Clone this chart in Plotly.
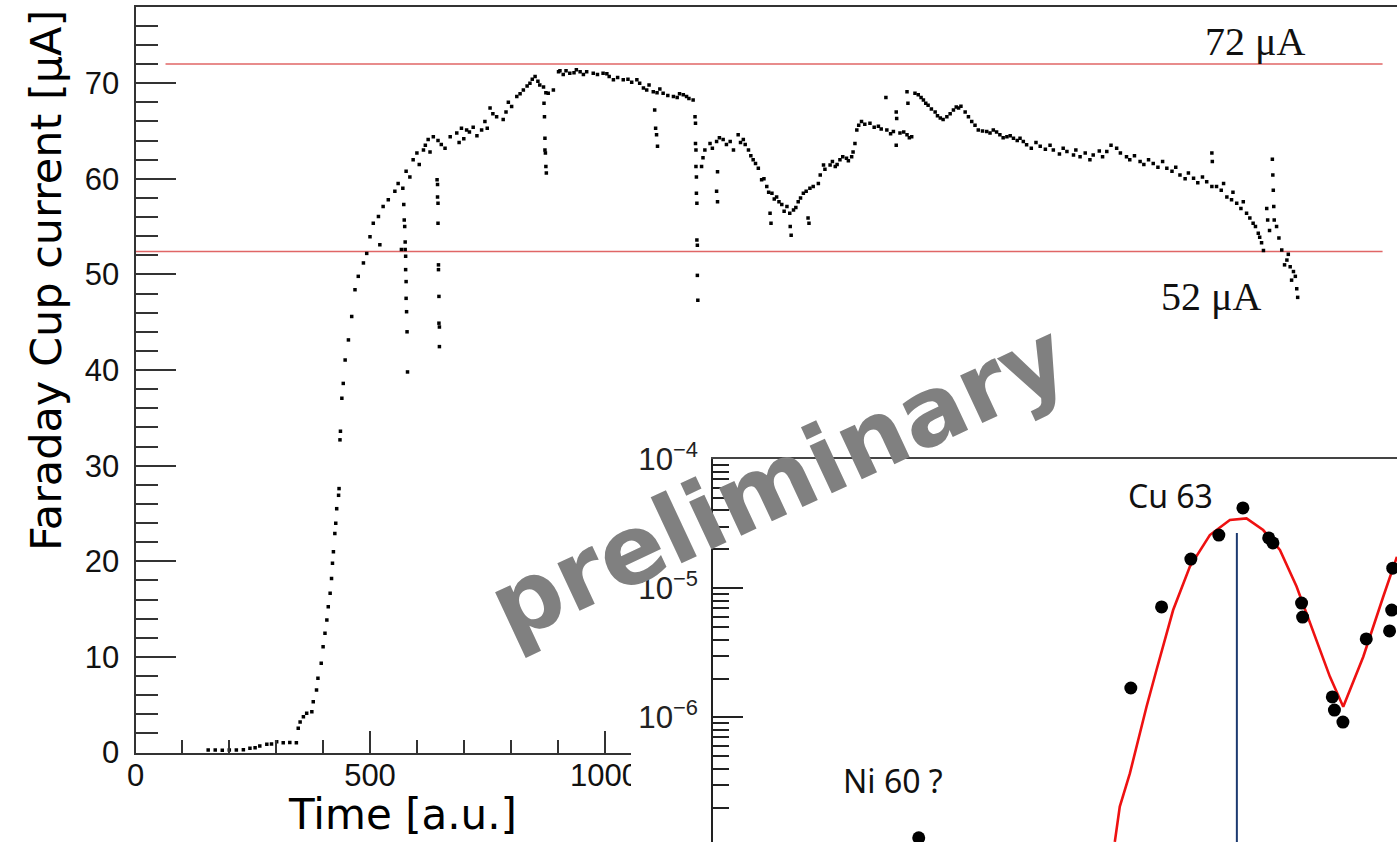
import plotly.graph_objects as go

W, H = 1397, 842


def fx(p):
    return p / W


def fy(p):
    return 1 - p / H


# ---------------- main panel: Faraday cup current vs time ----------------
baseline_t = [155, 170, 185, 200, 215, 230, 244, 255, 265, 280, 290, 301, 315, 329, 343]
baseline_i = [0.26, 0.25, 0.24, 0.25, 0.27, 0.30, 0.44, 0.50, 0.68, 0.85, 0.90, 1.13, 1.03, 1.05, 1.03]

rise_t = [347, 351, 358, 365, 376, 379, 386, 389, 396, 400,
          404, 408, 411, 415, 418, 420, 422, 425, 427, 429,
          433, 434, 436, 437, 440, 443, 447, 454, 461, 468,
          475, 486, 493, 500, 507, 518, 528, 539, 553, 560,
          570, 577, 585, 592, 600, 605, 614, 618, 624, 628,
          635, 645, 652, 660, 671, 685, 690, 695, 700, 706,
          712, 720, 728, 738, 745, 750, 756, 762, 770, 784,
          790, 795, 802, 813, 820, 827, 835, 841, 846, 852,
          858, 862, 870, 875, 880, 891, 902, 905, 912, 918,
          926, 935, 940, 948, 955, 962, 976, 985, 997, 1005,
          1010, 1019, 1028, 1040, 1050, 1058, 1069, 1075, 1083, 1090,
          1095, 1104, 1112, 1118, 1125, 1135, 1147, 1155, 1160, 1168,
          1175, 1180, 1189]
rise_i = [2.53, 3.2, 3.75, 4.1, 4.27, 5.3, 6.54, 7.76, 9.33, 11.07,
          12.47, 13.86, 15.25, 16.65, 18.2, 19.8, 21.0, 22.9, 23.97, 25.5,
          26.9, 27.6, 32.7, 33.6, 37.05, 38.6, 41.05, 43.15, 45.6, 48.4,
          49.8, 51.2, 52.2, 53.95, 55.35, 56.05, 57.1, 57.8, 58.7, 59.5,
          59.0, 60.8, 60.2, 62.0, 62.7, 61.5, 63.0, 63.5, 64.1, 62.8,
          64.4, 64.0, 63.6, 63.2, 64.4, 64.8, 63.8, 65.3, 64.2, 65.1,
          64.9, 65.4, 64.5, 65.1, 66.0, 65.3, 67.4, 66.8, 66.5, 66.2,
          67.0, 68.0, 67.55, 68.6, 68.9, 69.3, 69.7, 70.0, 70.4, 70.7,
          70.2, 69.8, 69.6, 69.0, 68.95, 69.3, 71.2, 71.3, 70.9, 71.3,
          71.05, 71.1, 71.4, 71.2, 70.9, 71.2, 71.05, 70.9, 71.05, 71.0,
          70.7, 70.35, 70.6, 70.35, 70.4, 70.1, 70.35, 70.0, 69.5, 69.3,
          69.8, 69.1, 69.0, 69.4, 68.95, 68.7, 68.6, 68.5, 68.9, 68.8,
          68.6, 68.4, 68.25]

mid_t = [1207, 1210, 1214, 1225, 1230, 1239, 1245, 1253, 1260, 1268,
         1275, 1285, 1290, 1296, 1300, 1307, 1312, 1317, 1322, 1328,
         1335, 1340, 1346, 1350, 1357, 1362, 1367, 1372, 1378, 1383,
         1389, 1395, 1403, 1408, 1413, 1418, 1424, 1430, 1438, 1445,
         1456, 1460, 1467, 1470, 1481, 1486, 1492, 1496, 1502, 1508,
         1516, 1520, 1527, 1530, 1534, 1538, 1542, 1548, 1555, 1566,
         1575, 1584, 1590, 1602, 1610, 1616, 1630, 1638, 1645, 1650,
         1655, 1662, 1669, 1675, 1680, 1685, 1690, 1697, 1705, 1710,
         1716, 1722, 1730, 1737, 1744, 1750, 1755, 1760, 1769, 1776,
         1783, 1790, 1797, 1806, 1815, 1822, 1829, 1836, 1843, 1850,
         1858, 1865, 1872, 1880, 1886]
mid_i = [61.3, 62.2, 63.0, 63.7, 63.2, 63.9, 64.3, 64.1, 63.6, 63.9,
         63.0, 64.6, 63.8, 64.1, 63.6, 63.0, 62.4, 62.0, 61.6, 61.1,
         59.9, 60.0, 59.2, 58.6, 58.5, 57.9, 58.1, 57.6, 57.3, 56.6,
         57.1, 56.4, 56.75, 57.0, 57.6, 58.0, 58.5, 58.7, 59.0, 59.2,
         59.5, 60.4, 61.45, 61.0, 61.45, 61.8, 61.3, 61.5, 62.0, 62.3,
         62.15, 61.9, 62.3, 62.8, 63.7, 65.1, 65.6, 66.0, 65.7, 65.8,
         65.4, 65.5, 65.2, 65.1, 64.7, 64.95, 64.8, 64.9, 64.6, 64.3,
         64.4, 68.95, 68.8, 68.5, 68.25, 67.9, 67.7, 67.3, 67.0, 66.6,
         66.35, 66.2, 66.5, 66.8, 67.2, 67.5, 67.4, 67.6, 67.0, 66.5,
         66.0, 65.6, 65.1, 65.0, 64.95, 64.8, 65.1, 64.9, 64.6, 64.3,
         64.4, 64.5, 64.25, 64.0, 64.25]

late_t = [1893, 1900, 1910, 1920, 1929, 1940, 1950, 1957, 1970, 1978,
          1986, 2000, 2005, 2014, 2025, 2035, 2042, 2055, 2062, 2071,
          2080, 2092, 2100, 2113, 2120, 2130, 2142, 2150, 2160, 2170,
          2180, 2190, 2199, 2210, 2218, 2227, 2238, 2245, 2256, 2265,
          2275, 2284, 2295, 2305, 2315, 2320, 2327, 2337, 2340, 2348,
          2357, 2362, 2369, 2376, 2383, 2388, 2394, 2397, 2401, 2405,
          2444, 2450, 2455, 2458, 2462, 2465, 2469, 2473, 2476, 2478]
late_i = [63.9, 63.55, 63.2, 63.8, 63.4, 63.1, 63.5, 63.0, 62.6, 63.2,
          62.85, 62.5, 63.0, 62.3, 62.7, 62.0, 62.5, 62.9, 62.3, 62.85,
          63.5, 63.2, 62.7, 62.3, 62.0, 62.4, 61.8, 61.5, 62.0, 61.6,
          61.2, 61.8, 61.1, 60.8, 61.2, 60.4, 60.0, 60.6, 60.05, 59.6,
          60.2, 59.7, 59.2, 59.2, 58.8, 59.5, 58.1, 57.8, 58.6, 57.45,
          56.9, 57.6, 56.4, 55.9, 55.35, 55.0, 54.3, 53.9, 53.3, 52.5,
          52.55, 51.0, 51.5, 52.1, 50.8, 49.4, 50.3, 49.8, 48.5, 47.6]

dip_t = [572, 573, 574, 575, 575, 576, 576, 577, 577, 578, 579, 580, 521, 567,
         643, 644, 644, 645, 645, 646, 646, 647, 647, 648, 648,
         871, 872, 873, 873, 874, 875, 876,
         1107, 1109, 1111, 1113,
         1193, 1194, 1194, 1195, 1195, 1196, 1196, 1197, 1197, 1198, 1198, 1199,
         1239, 1241, 1241, 1353, 1355, 1396, 1398, 1434, 1436,
         1600, 1622, 1623, 1645, 1647, 1622,
         2295, 2296, 2412, 2414, 2424, 2425, 2426, 2427, 2428, 2433, 2418, 2438]
dip_i = [57.3, 55.7, 55.0, 53.4, 52.6, 51.9, 50.5, 49.25, 47.5, 46.1, 44.0, 39.8, 53.1, 52.6,
         59.9, 59.4, 58.1, 57.45, 55.35, 51.0, 50.5, 47.7, 44.9, 44.5, 42.45,
         67.9, 66.5, 64.25, 63.0, 62.7, 61.3, 60.6,
         67.2, 65.3, 64.6, 63.4,
         66.5, 65.8, 63.7, 63.0, 61.3, 60.2, 58.5, 57.45, 53.6, 53.05, 49.9, 47.3,
         58.7, 57.6, 60.75, 56.4, 55.35, 55.0, 54.1, 55.9, 55.35,
         68.5, 67.0, 66.3, 69.1, 67.9, 63.5,
         62.7, 61.8, 56.9, 55.7, 62.05, 60.4, 58.8, 57.1, 55.7, 55.0, 54.6, 53.8]

level_hi_t = [64, 2659]
level_hi_i = [72.0, 72.0]
level_lo_t = [0, 2659]
level_lo_i = [52.4, 52.4]

time_ticks = [0, 500, 1000]
current_ticks = [0, 10, 20, 30, 40, 50, 60, 70]

# ---------------- inset: mass scan ----------------
mass_pts = [62.00, 62.29, 62.566, 62.83, 63.057, 63.30, 63.34, 63.61, 63.62,
            63.90, 63.92, 64.00, 64.22, 64.44, 64.46, 64.47]
ratio_pts = [1.69e-6, 7.16e-6, 1.68e-5, 2.58e-5, 4.18e-5, 2.45e-5, 2.24e-5, 7.67e-6, 5.98e-6,
             1.44e-6, 1.14e-6, 9.2e-7, 4.05e-6, 4.67e-6, 6.77e-6, 1.43e-5]
ni_mass = [60.0]
ni_ratio = [1.17e-7]
fit_mass = [61.849, 61.896, 61.991, 62.085, 62.148, 62.242, 62.399, 62.557, 62.745, 62.934,
            63.091, 63.248, 63.406, 63.563, 63.752, 63.877, 64.003, 64.192, 64.380, 64.509]
fit_ratio = [1.09e-7, 2.04e-7, 3.69e-7, 7.53e-7, 1.21e-6, 2.33e-6, 6.78e-6, 1.47e-5, 2.58e-5, 3.37e-5,
             3.47e-5, 2.82e-5, 1.98e-5, 1.03e-5, 3.97e-6, 2.07e-6, 1.21e-6, 2.95e-6, 8.59e-6, 1.75e-5]
cu63_mass = [63.0, 63.0]
cu63_ratio = [2.67e-5, 1e-8]

time_all = baseline_t + rise_t + mid_t + late_t + dip_t
current_all = baseline_i + rise_i + mid_i + late_i + dip_i

fig = go.Figure()

fig.add_trace(go.Scatter(x=level_hi_t, y=level_hi_i, mode="lines",
                         line=dict(color="#e06666", width=1.6),
                         xaxis="x", yaxis="y", showlegend=False, hoverinfo="skip"))
fig.add_trace(go.Scatter(x=level_lo_t, y=level_lo_i, mode="lines",
                         line=dict(color="#e06666", width=1.6),
                         xaxis="x", yaxis="y", showlegend=False, hoverinfo="skip"))
fig.add_trace(go.Scatter(x=time_all, y=current_all, mode="markers",
                         marker=dict(color="black", size=3.5, symbol="square"),
                         xaxis="x", yaxis="y", showlegend=False))

fig.add_trace(go.Scatter(x=cu63_mass, y=cu63_ratio, mode="lines",
                         line=dict(color="#1c3a70", width=2),
                         xaxis="x2", yaxis="y2", showlegend=False))
fig.add_trace(go.Scatter(x=fit_mass, y=fit_ratio, mode="lines",
                         line=dict(color="#ee1111", width=2.6),
                         xaxis="x2", yaxis="y2", showlegend=False))
fig.add_trace(go.Scatter(x=mass_pts, y=ratio_pts, mode="markers",
                         marker=dict(color="black", size=13),
                         xaxis="x2", yaxis="y2", showlegend=False))
fig.add_trace(go.Scatter(x=ni_mass, y=ni_ratio, mode="markers",
                         marker=dict(color="black", size=13),
                         xaxis="x2", yaxis="y2", showlegend=False))

axis_col = "#333333"
tick_font = dict(family="Liberation Sans, Arial, sans-serif", size=31, color="#111111")

fig.update_layout(
    template="none",
    width=W, height=H,
    autosize=False,
    margin=dict(l=0, r=0, t=0, b=0, pad=0, autoexpand=False),
    paper_bgcolor="white", plot_bgcolor="white",
    showlegend=False,
    xaxis=dict(
        domain=[fx(135.5), 1.0], range=[0, (W - 135.5) / 0.469],
        anchor="y", showgrid=False, zeroline=False, automargin=False,
        showline=True, linecolor=axis_col, linewidth=2, mirror=True,
        ticks="inside", ticklen=22, tickwidth=2, tickcolor=axis_col,
        tickmode="array", tickvals=time_ticks,
        minor=dict(ticks="inside", ticklen=13, tickwidth=2, tickcolor=axis_col,
                   tickmode="linear", tick0=0, dtick=100),
        tickfont=tick_font, ticklabelstandoff=-6,
    ),
    yaxis=dict(
        domain=[fy(752.5), fy(6.7)], range=[0, 78.0],
        anchor="x", showgrid=False, zeroline=False, automargin=False,
        showline=True, linecolor=axis_col, linewidth=2,
        ticks="inside", ticklen=40, tickwidth=2, tickcolor=axis_col,
        tickmode="array", tickvals=current_ticks,
        minor=dict(ticks="inside", ticklen=22, tickwidth=2, tickcolor=axis_col,
                   tickmode="linear", tick0=0, dtick=2),
        tickfont=tick_font, ticklabelstandoff=8,
    ),
    xaxis2=dict(
        domain=[fx(713), 1.0], range=[58.06, 64.51],
        anchor="y2", side="top", showgrid=False, zeroline=False, automargin=False,
        showline=True, linecolor="#444444", linewidth=2,
        ticks="", showticklabels=False,
    ),
    yaxis2=dict(
        domain=[0.0, fy(459)], type="log", range=[-6.964, -4.0],
        anchor="x2", showgrid=False, zeroline=False, automargin=False,
        showline=True, linecolor="#222222", linewidth=2,
        ticks="inside", ticklen=30, tickwidth=2, tickcolor="#222222",
        dtick=1, exponentformat="power",
        minor=dict(ticks="inside", ticklen=16, tickwidth=2, tickcolor="#222222", dtick="D1"),
        tickfont=dict(family="Liberation Sans, Arial, sans-serif", size=25, color="#222222"),
        ticklabelstandoff=8,
    ),
)

# white strip hiding the part of the main time axis under the inset's label area
fig.add_shape(type="rect", xref="paper", yref="paper",
              x0=fx(631), x1=fx(711), y0=0, y1=fy(737),
              fillcolor="white", line=dict(width=0), layer="above")

annotations = [
    dict(text="Faraday Cup current [μA]", x=fx(46), y=fy(281), textangle=-90,
         font=dict(family="DejaVu Sans", size=43, color="black")),
    dict(text="Time [a.u.]", x=fx(402), y=fy(814),
         font=dict(family="DejaVu Sans", size=42, color="black")),
    dict(text="72 μA", x=fx(1255), y=fy(42),
         font=dict(family="Liberation Serif, Times New Roman, serif", size=40, color="#111111")),
    dict(text="52 μA", x=fx(1211), y=fy(297),
         font=dict(family="Liberation Serif, Times New Roman, serif", size=40, color="#111111")),
    dict(text="Cu 63", x=fx(1170), y=fy(496),
         font=dict(family="Noto Sans, Open Sans, sans-serif", size=32, color="#111111")),
    dict(text="Ni 60 ?", x=fx(893), y=fy(780),
         font=dict(family="Noto Sans, Open Sans, sans-serif", size=32, color="#111111")),
    dict(text="<b>preliminary</b>", x=fx(778), y=fy(482), textangle=-25,
         font=dict(family="DejaVu Sans", size=96, color="#808080")),
]
for a in annotations:
    fig.add_annotation(xref="paper", yref="paper", showarrow=False,
                       xanchor="center", yanchor="middle", **a)

fig.write_html("out.html")
